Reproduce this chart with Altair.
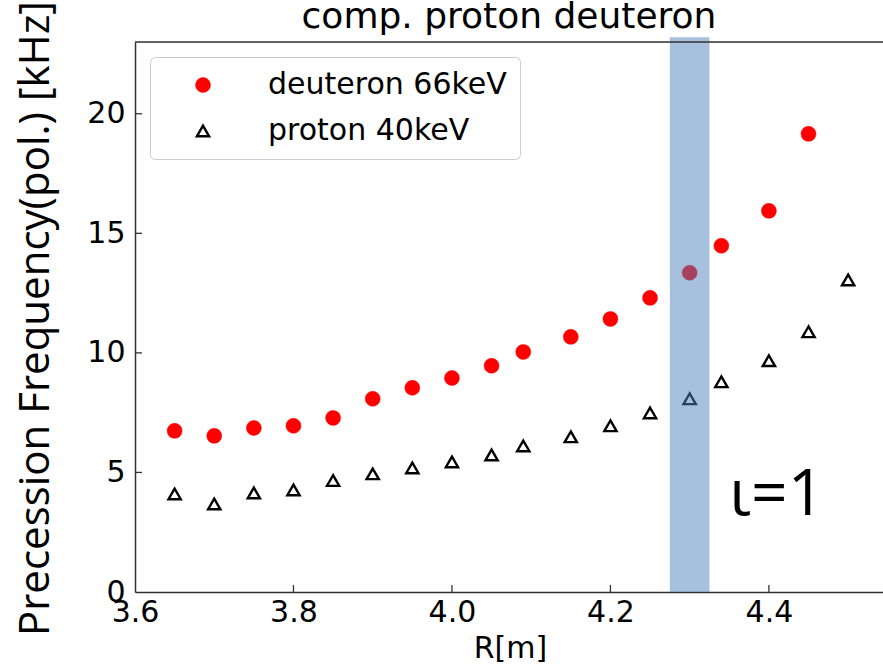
import altair as alt
import pandas as pd

# ---- data ----
series = ["deuteron 66keV", "proton 40keV"]
R_deut = [3.65, 3.70, 3.75, 3.80, 3.85, 3.90, 3.95, 4.00, 4.05, 4.09, 4.15, 4.20, 4.25, 4.30, 4.34, 4.40, 4.45]
f_deut = [6.74, 6.53, 6.86, 6.95, 7.28, 8.08, 8.54, 8.95, 9.46, 10.04, 10.67, 11.42, 12.30, 13.35, 14.48, 15.94, 19.16]
R_prot = [3.65, 3.70, 3.75, 3.80, 3.85, 3.90, 3.95, 4.00, 4.05, 4.09, 4.15, 4.20, 4.25, 4.30, 4.34, 4.40, 4.45, 4.50]
f_prot = [4.10, 3.68, 4.14, 4.27, 4.66, 4.94, 5.19, 5.44, 5.73, 6.11, 6.49, 6.95, 7.49, 8.08, 8.79, 9.67, 10.88, 13.05]

x_domain = [3.6, 4.544]
y_domain = [0, 23]
x_ticks = [3.6, 3.8, 4.0, 4.2, 4.4]
y_ticks = [0, 5, 10, 15, 20]

band_x = [4.275, 4.325]
band_y = [0, 23.2]

ann_x = [4.41]
ann_y = [3.2]
ann_text = ["ι=1"]

title_text = ["comp. proton deuteron"]
x_title = "R[m]"
y_title = "Precession Frequency(pol.) [kHz]"

W, H = 748, 550

df = pd.DataFrame({
    "R": R_deut + R_prot,
    "f": f_deut + f_prot,
    "series": [series[0]] * len(R_deut) + [series[1]] * len(R_prot),
})

xscale = alt.Scale(domain=x_domain, nice=False, zero=False)
yscale = alt.Scale(domain=y_domain, nice=False, zero=False)

ax_x = alt.Axis(
    values=x_ticks, format=".1f", title=x_title, grid=False, ticks=False,
    labelFont="DejaVu Sans", labelFontSize=30, labelColor="black", labelPadding=5,
    labelFlush=False, labelOverlap=False,
    domainColor="#333333", domainWidth=1.5,
    titleFont="DejaVu Sans", titleFontSize=30, titleFontWeight="normal", titleColor="black",
    titleX=375, titleY=65, titleBaseline="alphabetic", titleAlign="center",
)
ax_y = alt.Axis(
    values=y_ticks, format="d", title=y_title, grid=False, ticks=False,
    labelFont="DejaVu Sans", labelFontSize=30, labelColor="black", labelPadding=10,
    labelFlush=False, labelOverlap=False, labelBaseline="middle",
    domainColor="#333333", domainWidth=1.5,
    titleFont="Open Sans", titleFontSize=42, titleFontWeight="normal", titleColor="black",
    titleAngle=270, titleX=-87, titleY=276, titleAlign="center", titleBaseline="alphabetic",
)

leg = alt.Legend(
    title=None, orient="none", legendX=15, legendY=15,
    padding=13, symbolOffset=25, labelOffset=50, rowPadding=16,
    labelFont="DejaVu Sans", labelFontSize=30, labelColor="black", labelLimit=500,
    fillColor="white", strokeColor="#cccccc", cornerRadius=5,
)

points = alt.Chart(df).mark_point(opacity=1).encode(
    x=alt.X("R:Q", scale=xscale, axis=ax_x),
    y=alt.Y("f:Q", scale=yscale, axis=ax_y),
    shape=alt.Shape("series:N", scale=alt.Scale(domain=series, range=["circle", "triangle-up"]), legend=leg),
    fill=alt.Fill("series:N", scale=alt.Scale(domain=series, range=["#ff0000", "transparent"]), legend=leg),
    stroke=alt.Stroke("series:N", scale=alt.Scale(domain=series, range=["#ff0000", "#000000"]), legend=leg),
    size=alt.Size("series:N", scale=alt.Scale(domain=series, range=[225, 150]), legend=leg),
    strokeWidth=alt.StrokeWidth("series:N", scale=alt.Scale(domain=series, range=[0.5, 2.4]), legend=leg),
)

band_df = pd.DataFrame({"x1": [band_x[0]], "x2": [band_x[1]], "y1": [band_y[0]], "y2": [band_y[1]]})
band = alt.Chart(band_df).mark_rect(color="#4f81bd", opacity=0.5, clip=False).encode(
    x=alt.X("x1:Q", scale=xscale, axis=ax_x), x2="x2:Q",
    y=alt.Y("y1:Q", scale=yscale, axis=ax_y), y2="y2:Q",
)

xt = alt.Chart(pd.DataFrame({"t": x_ticks[1:]})).mark_rule(color="#333333", strokeWidth=1.3).encode(
    x=alt.X("t:Q", scale=xscale, axis=ax_x), y=alt.value(H), y2=alt.value(H - 7)
)
yt = alt.Chart(pd.DataFrame({"t": y_ticks[1:]})).mark_rule(color="#333333", strokeWidth=1.3).encode(
    y=alt.Y("t:Q", scale=yscale, axis=ax_y), x=alt.value(0), x2=alt.value(7)
)
top = alt.Chart(pd.DataFrame({"t": [y_domain[1]]})).mark_rule(color="#333333", strokeWidth=1.5).encode(
    y=alt.Y("t:Q", scale=yscale, axis=ax_y), x=alt.value(0), x2=alt.value(W)
)

ann = alt.Chart(pd.DataFrame({"x": ann_x, "y": ann_y, "t": ann_text})).mark_text(
    font="Open Sans", fontSize=64, align="center", baseline="alphabetic", color="black"
).encode(
    x=alt.X("x:Q", scale=xscale, axis=ax_x), y=alt.Y("y:Q", scale=yscale, axis=ax_y), text="t:N"
)

ttl = alt.Chart(pd.DataFrame({"t": title_text})).mark_text(
    font="DejaVu Sans", fontSize=36, align="center", baseline="alphabetic", color="black"
).encode(x=alt.value(W / 2), y=alt.value(-14), text="t:N")

chart = alt.layer(points, band, xt, yt, top, ann, ttl).properties(
    width=W, height=H,
    autosize=alt.AutoSizeParams(type="none"),
    padding={"left": 135, "top": 42, "right": 0, "bottom": 76},
).configure_view(stroke=None).configure(background="white")

chart.save("out.html", embed_options={"renderer": "svg", "actions": False})
